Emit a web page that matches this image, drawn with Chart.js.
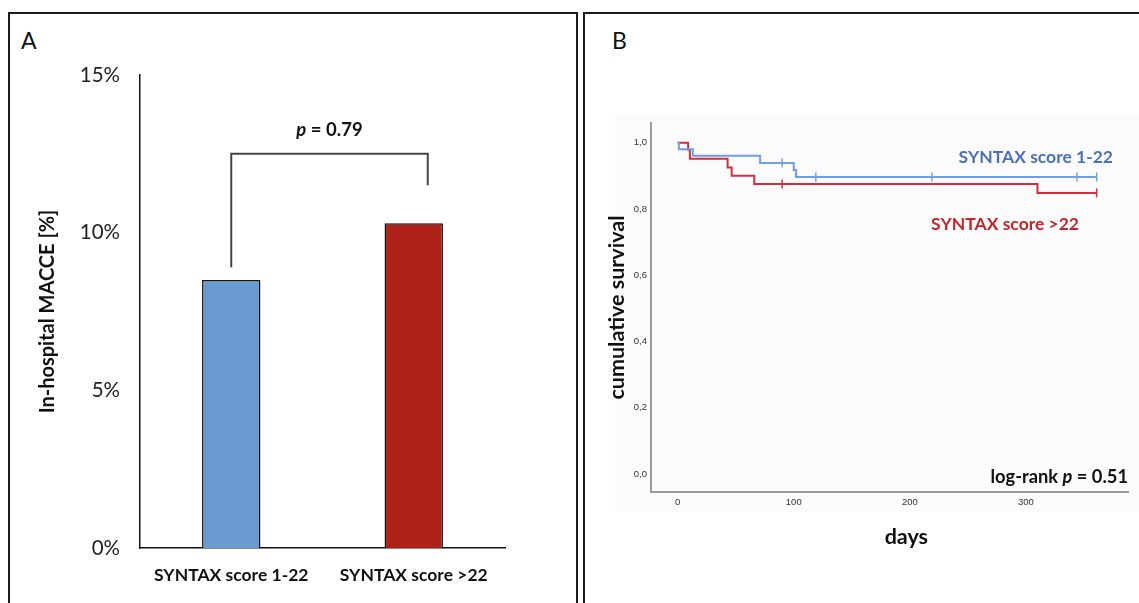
<!DOCTYPE html>
<html>
<head>
<meta charset="utf-8">
<script src="https://cdn.jsdelivr.net/npm/chart.js@4/dist/chart.umd.min.js"></script>
<style>
  body { margin: 0; background: #fff; }
  #page { position: relative; width: 1139px; height: 603px; overflow: hidden; background: #fff; }
  .frame { position: absolute; border: 2px solid #1a1a1a; box-sizing: border-box; }
  .tag { position: absolute; font-family: Lato, sans-serif; font-size: 23px; color: #111; }
  #shade { position: absolute; left: 615px; top: 115px; width: 524px; height: 397px; background: #fbfbfb; }
  canvas { position: absolute; }
</style>
</head>
<body>
<div id="page">
  <div class="frame" style="left:8px; top:12px; width:570px; height:620px;"></div>
  <div class="frame" style="left:583px; top:12px; width:600px; height:620px;"></div>
  <div id="shade"></div>
  <div class="tag" style="left:21px; top:26px;">A</div>
  <div class="tag" style="left:612px; top:26px;">B</div>
  <canvas id="barChart" width="567" height="590" style="left:9px; top:13px;"></canvas>
  <canvas id="kmChart" width="555" height="590" style="left:584px; top:13px;"></canvas>
</div>
<script>
// panel A: in-hospital MACCE
const groups = ['SYNTAX score 1-22', 'SYNTAX score >22'];
const macce = [8.5, 10.3];
const barColors = ['#6a9bd0', '#ad2119'];
const yTicksA = [0, 5, 10, 15];
// bracket: left foot, top, right foot (in %)
const bracketLevels = [8.9, 12.5, 11.5];
const pText = '0.79';

// panel B: Kaplan-Meier
const daysLow = [0, 1, 13, 71, 100, 102, 361];
const survLow = [1.0, 0.981, 0.961, 0.939, 0.918, 0.897, 0.897];
const daysHigh = [0, 9, 10.5, 43, 46.5, 66, 310, 361];
const survHigh = [1.0, 0.979, 0.952, 0.926, 0.901, 0.876, 0.849, 0.849];
const censorDaysLow = [90, 119, 219, 344, 361];
const censorSurvLow = [0.939, 0.897, 0.897, 0.897, 0.897];
const censorDaysHigh = [90, 361];
const censorSurvHigh = [0.876, 0.849];
const xTicksB = [0, 100, 200, 300];
const yTicksB = [0, 0.2, 0.4, 0.6, 0.8, 1.0];

const blueLine = '#6f9fe2';
const redLine = '#d12e3e';

function toPoints(xs, ys) {
  return xs.map((x, i) => ({ x: x, y: ys[i] }));
}

// draws "p" italic, rest upright, right aligned at x
function pLabel(ctx, before, after, x, y, size, align) {
  ctx.font = 'bold ' + size + 'px Lato';
  const wb = ctx.measureText(before).width;
  const wa = ctx.measureText(after).width;
  ctx.font = 'italic bold ' + size + 'px Lato';
  const wp = ctx.measureText('p').width;
  const total = wb + wp + wa;
  let sx = align === 'right' ? x - total : x - total / 2;
  ctx.textAlign = 'left';
  ctx.font = 'bold ' + size + 'px Lato';
  ctx.fillText(before, sx, y);
  ctx.font = 'italic bold ' + size + 'px Lato';
  ctx.fillText('p', sx + wb, y);
  ctx.font = 'bold ' + size + 'px Lato';
  ctx.fillText(after, sx + wb + wp, y);
}

const bracketPlugin = {
  id: 'bracket',
  afterDatasetsDraw(chart) {
    const { ctx, scales: { x, y } } = chart;
    const x0 = x.getPixelForValue(0);
    const x1 = x.getPixelForValue(1) + 14;
    ctx.save();
    ctx.strokeStyle = '#444';
    ctx.lineWidth = 2;
    ctx.beginPath();
    ctx.moveTo(x0, y.getPixelForValue(bracketLevels[0]));
    ctx.lineTo(x0, y.getPixelForValue(bracketLevels[1]));
    ctx.lineTo(x1, y.getPixelForValue(bracketLevels[1]));
    ctx.lineTo(x1, y.getPixelForValue(bracketLevels[2]));
    ctx.stroke();
    ctx.fillStyle = '#111';
    ctx.textBaseline = 'middle';
    pLabel(ctx, '', ' = ' + pText, (x0 + x1) / 2, y.getPixelForValue(bracketLevels[1]) - 24, 18.5, 'center');
    ctx.restore();
  }
};

new Chart(document.getElementById('barChart'), {
  type: 'bar',
  data: {
    labels: groups,
    datasets: [{
      data: macce,
      backgroundColor: barColors,
      borderColor: '#111',
      borderWidth: 1.5,
      borderSkipped: 'bottom',
      barPercentage: 0.32,
      categoryPercentage: 1
    }]
  },
  options: {
    responsive: false,
    animation: false,
    layout: { padding: { left: 0, top: 62, right: 71, bottom: 0 } },
    plugins: { legend: { display: false }, tooltip: { enabled: false } },
    scales: {
      x: {
        grid: { display: false, drawTicks: false },
        border: { display: true, color: '#111', width: 1.5 },
        ticks: { color: '#111', padding: 17, font: { family: 'Lato', size: 17.5, weight: 'bold' } },
        afterFit(s) { s.height = 55; }
      },
      y: {
        min: 0, max: 15,
        afterBuildTicks(s) { s.ticks = yTicksA.map(v => ({ value: v })); },
        grid: { display: false, drawTicks: false },
        border: { display: true, color: '#111', width: 1.5 },
        ticks: { color: '#222', padding: 20, font: { family: 'Lato', size: 20.5 }, callback: v => v + '%' },
        title: { display: true, text: 'In-hospital MACCE [%]', color: '#111', padding: { top: 27 },
                 font: { family: 'Lato', size: 20, weight: 'bold' } },
        afterFit(s) { s.width = 131; }
      }
    }
  },
  plugins: [bracketPlugin]
});

const kmLabels = {
  id: 'kmLabels',
  afterDraw(chart) {
    const { ctx, chartArea, scales: { x } } = chart;
    ctx.save();
    ctx.textAlign = 'right';
    ctx.textBaseline = 'middle';
    ctx.font = 'bold 17.5px Lato';
    ctx.fillStyle = '#4c70b6';
    ctx.fillText('SYNTAX score 1-22', chartArea.right - 15, 144);
    ctx.fillStyle = '#c0262e';
    ctx.fillText('SYNTAX score >22', chartArea.right - 49, 211);
    ctx.fillStyle = '#111';
    pLabel(ctx, 'log-rank ', ' = 0.51', chartArea.right, 464, 18.3, 'right');
    // axis title
    ctx.textAlign = 'center';
    ctx.font = 'bold 21.5px Lato';
    ctx.fillText('days', x.getPixelForValue(197), 524);
    ctx.restore();
  }
};

new Chart(document.getElementById('kmChart'), {
  type: 'scatter',
  data: {
    datasets: [
      { data: toPoints(daysLow, survLow), showLine: true, stepped: true, borderColor: blueLine, borderWidth: 2, pointRadius: 0 },
      { data: toPoints(daysHigh, survHigh), showLine: true, stepped: true, borderColor: redLine, borderWidth: 2, pointRadius: 0 },
      { data: toPoints(censorDaysLow, censorSurvLow), showLine: false, pointStyle: 'line', rotation: 90, pointRadius: 4.5, borderColor: blueLine, borderWidth: 1.5 },
      { data: toPoints(censorDaysHigh, censorSurvHigh), showLine: false, pointStyle: 'line', rotation: 90, pointRadius: 4.5, borderColor: redLine, borderWidth: 1.5 }
    ]
  },
  options: {
    responsive: false,
    animation: false,
    layout: { padding: { left: 0, top: 110, right: 11, bottom: 51 } },
    plugins: { legend: { display: false }, tooltip: { enabled: false } },
    scales: {
      x: {
        type: 'linear', min: -23, max: 388,
        afterBuildTicks(s) { s.ticks = xTicksB.map(v => ({ value: v })); },
        grid: { display: false, drawTicks: false },
        border: { display: true, color: '#9a9a9a', width: 2 },
        ticks: { color: '#333', padding: 5, font: { family: 'Liberation Sans', size: 9.5 } },
        afterFit(s) { s.height = 60; }
      },
      y: {
        min: -0.054, max: 1.06,
        afterBuildTicks(s) { s.ticks = yTicksB.map(v => ({ value: v })); },
        grid: { display: false, drawTicks: false },
        border: { display: true, color: '#9a9a9a', width: 2 },
        ticks: { color: '#333', padding: 4, font: { family: 'Liberation Sans', size: 9.5 },
                 callback: v => v.toFixed(1).replace('.', ',') },
        title: { display: true, text: 'cumulative survival', color: '#111', padding: { top: 20 },
                 font: { family: 'Lato', size: 21.5, weight: 'bold' } },
        afterFit(s) { s.width = 67; }
      }
    }
  },
  plugins: [kmLabels]
});
</script>
</body>
</html>
